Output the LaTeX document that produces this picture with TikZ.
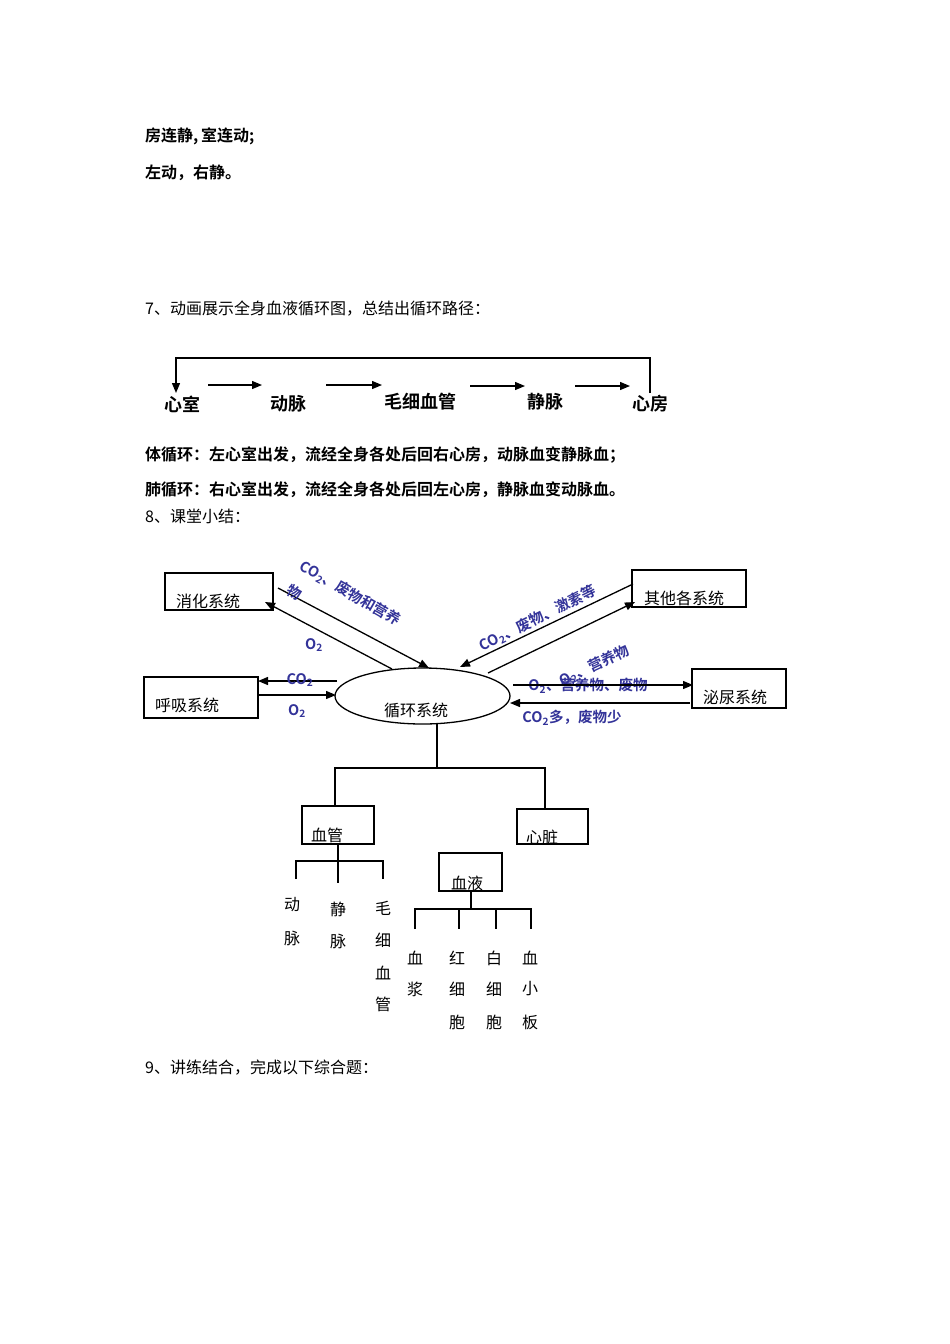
\documentclass[tikz,border=0pt]{standalone}
\usepackage{fontspec}
\setmainfont{Noto Sans CJK SC}[BoldFont={Noto Sans CJK SC Bold}]
\usetikzlibrary{arrows.meta,shapes.geometric}
\definecolor{lblblue}{RGB}{51,51,153}
\begin{document}
\begin{tikzpicture}[x=1pt,y=-1pt,
  every node/.style={inner sep=0pt},
  reg/.style={font=\fontsize{16}{16}\selectfont},
  bld/.style={font=\fontsize{16}{16}\selectfont\bfseries},
  flowtxt/.style={font=\fontsize{18}{18}\selectfont\bfseries},
  lbl/.style={font=\fontsize{14.5}{14.5}\selectfont\bfseries, text=lblblue},
  sysbox/.style={draw, line width=1.3pt, rectangle},
  ln/.style={line width=1.3pt},
  arr/.style={line width=1.3pt, -{Triangle[length=10pt,width=8pt]}}
  ]
\fill[white] (0,0) rectangle (950,1344);
\useasboundingbox (0,0) rectangle (950,1344);

% top text
\node[bld, anchor=west] (t1) at (145,136) {房连静,\,室连动;};
\node[bld, anchor=west] (t2) at (145,173) {左动，右静。};
\node[reg, anchor=west] (t3) at (145,309) {7、动画展示全身血液循环图，总结出循环路径：};

% flow
\node[flowtxt] (f1) at (182,404) {心室};
\node[flowtxt] (f2) at (288,404) {动脉};
\node[flowtxt] (f3) at (420,402) {毛细血管};
\node[flowtxt] (f4) at (545,402) {静脉};
\node[flowtxt] (f5) at (650,404) {心房};
\coordinate (a1s) at (208,385); \coordinate (a1e) at (262,385);
\coordinate (a2s) at (326,385); \coordinate (a2e) at (382,385);
\coordinate (a3s) at (470,386); \coordinate (a3e) at (525,386);
\coordinate (a4s) at (575,386); \coordinate (a4e) at (630,386);
\draw[arr] (a1s) -- (a1e);
\draw[arr] (a2s) -- (a2e);
\draw[arr] (a3s) -- (a3e);
\draw[arr] (a4s) -- (a4e);
\coordinate (lpR) at (650,393);
\coordinate (lpT) at (650,358);
\coordinate (lpL) at (176,358);
\coordinate (lpE) at (176,393);
\draw[arr] (lpR) -- (lpT) -- (lpL) -- (lpE);

\node[bld, anchor=west] (t4) at (145,455) {体循环：左心室出发，流经全身各处后回右心房，动脉血变静脉血；};
\node[bld, anchor=west] (t5) at (145,490) {肺循环：右心室出发，流经全身各处后回左心房，静脉血变动脉血。};
\node[reg, anchor=west] (t6) at (145,516) {8、课堂小结：};

% systems
\node[sysbox, minimum width=108pt, minimum height=37pt] (xh) at (219,591.5) {};
\node[reg] (xht) at (208,601) {消化系统};
\node[sysbox, minimum width=114pt, minimum height=37pt] (qt) at (689,588.5) {};
\node[reg] (qtt) at (684,598) {其他各系统};
\node[sysbox, minimum width=114pt, minimum height=41pt] (hx) at (201,697.5) {};
\node[reg] (hxt) at (187,705) {呼吸系统};
\node[sysbox, minimum width=94pt, minimum height=39pt] (mn) at (739,688.5) {};
\node[reg] (mnt) at (735,697) {泌尿系统};
\node[draw, line width=1.3pt, ellipse, minimum width=175pt, minimum height=56pt] (xh2) at (422.5,696) {};
\node[reg] (xhs) at (416,710) {循环系统};

% arrows digestive
\coordinate (d1s) at (278,588); \coordinate (d1e) at (429,668);
\coordinate (d2s) at (392,669); \coordinate (d2e) at (265,602);
\draw[arr] (d1s) -- (d1e);
\draw[arr] (d2s) -- (d2e);
\node[lbl, rotate=-30, anchor=west] (l1) at (301,565) {CO\textsubscript{2}、废物和营养};
\node[lbl, rotate=-30] (l1b) at (295,592) {物};
\node[lbl] (l2) at (314,645) {O\textsubscript{2}};

% respiratory
\coordinate (r1s) at (337,681); \coordinate (r1e) at (258,681);
\coordinate (r2s) at (258,695); \coordinate (r2e) at (336,695);
\draw[arr] (r1s) -- (r1e);
\draw[arr] (r2s) -- (r2e);
\node[lbl] (l3) at (300,680) {CO\textsubscript{2}};
\node[lbl] (l4) at (297,711) {O\textsubscript{2}};

% other systems
\coordinate (o1s) at (633,584); \coordinate (o1e) at (460,667);
\coordinate (o2s) at (488,673); \coordinate (o2e) at (635,602);
\draw[arr] (o1s) -- (o1e);
\draw[arr] (o2s) -- (o2e);
\node[lbl, rotate=26.5, anchor=west] (l5) at (480,647) {CO\textsubscript{2}、废物、激素等};

% urinary
\coordinate (u1s) at (513,685); \coordinate (u1e) at (693,685);
\coordinate (u2s) at (690,703); \coordinate (u2e) at (510,703);
\node[lbl, rotate=25.5, anchor=west] (l6) at (560,682) {O\textsubscript{2}、营养物};
\node[lbl] (l7) at (588,686) {O\textsubscript{2}、营养物、废物};
\draw[arr] (u1s) -- (u1e);
\draw[arr] (u2s) -- (u2e);
\node[lbl] (l8) at (572,718) {CO\textsubscript{2}多，废物少};

% tree
\node[sysbox, minimum width=72pt, minimum height=38pt] (xg) at (338,825) {};
\node[reg] (xgt) at (327,835) {血管};
\node[sysbox, minimum width=71pt, minimum height=35pt] (xz) at (552.5,826.5) {};
\node[reg] (xzt) at (542,837) {心脏};
\node[sysbox, minimum width=63pt, minimum height=38pt] (xy) at (470.5,872) {};
\node[reg] (xyt) at (467,883) {血液};

\coordinate (tr0) at (437,723);
\coordinate (tr1) at (437,768);
\coordinate (trL) at (335,768);
\coordinate (trR) at (545,768);
\coordinate (trLb) at (335,806);
\coordinate (trRb) at (545,809);
\draw[ln] (tr0) -- (tr1);
\draw[ln] (trLb) -- (trL) -- (trR) -- (trRb);

% vessel subtree
\coordinate (v0) at (338,844);
\coordinate (v1) at (338,861);
\coordinate (vL) at (296,861); \coordinate (vLb) at (296,879);
\coordinate (vR) at (383,861); \coordinate (vRb) at (383,879);
\coordinate (vMb) at (338,883);
\draw[ln] (v0) -- (vMb);
\draw[ln] (vLb) -- (vL) -- (vR) -- (vRb);

% blood subtree
\coordinate (b0) at (471,891);
\coordinate (b1) at (471,909);
\coordinate (bA) at (415,909); \coordinate (bAb) at (415,929);
\coordinate (bB) at (459,909); \coordinate (bBb) at (459,929);
\coordinate (bC) at (496,909); \coordinate (bCb) at (496,929);
\coordinate (bD) at (531,909); \coordinate (bDb) at (531,929);
\draw[ln] (b0) -- (b1);
\draw[ln] (bAb) -- (bA) -- (bD) -- (bDb);
\draw[ln] (bB) -- (bBb);
\draw[ln] (bC) -- (bCb);

% vertical labels
\node[reg] (c1a) at (292,905) {动};
\node[reg] (c1b) at (292,938) {脉};
\node[reg] (c2a) at (338,909) {静};
\node[reg] (c2b) at (338,941) {脉};
\node[reg] (c3a) at (383,908) {毛};
\node[reg] (c3b) at (383,940) {细};
\node[reg] (c3c) at (383,973) {血};
\node[reg] (c3d) at (383,1004) {管};
\node[reg] (c4a) at (415,958) {血};
\node[reg] (c4b) at (415,989) {浆};
\node[reg] (c5a) at (457,958) {红};
\node[reg] (c5b) at (457,989) {细};
\node[reg] (c5c) at (457,1022) {胞};
\node[reg] (c6a) at (494,958) {白};
\node[reg] (c6b) at (494,989) {细};
\node[reg] (c6c) at (494,1022) {胞};
\node[reg] (c7a) at (530,958) {血};
\node[reg] (c7b) at (530,989) {小};
\node[reg] (c7c) at (530,1022) {板};

\node[reg, anchor=west] (t7) at (145,1068) {9、讲练结合，完成以下综合题：};
\end{tikzpicture}
\end{document}
